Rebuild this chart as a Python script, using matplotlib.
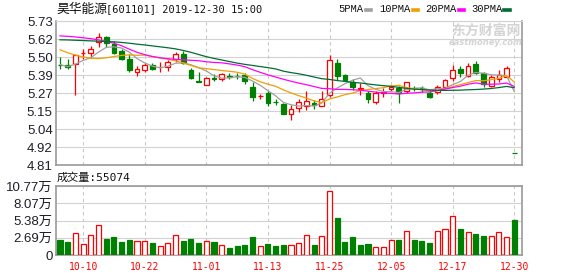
import matplotlib
matplotlib.use("Agg")
import matplotlib.pyplot as plt
from matplotlib.lines import Line2D
import numpy as np
import pandas as pd

# 日K数据 (60个交易日)
opens = [5.452, 5.447, 5.457, 5.524, 5.525, 5.597, 5.628, 5.584, 5.537, 5.490,
         5.406, 5.420, 5.452, 5.433, 5.436, 5.488, 5.522, 5.420, 5.347, 5.319,
         5.365, 5.357, 5.378, 5.378, 5.382, 5.310, 5.250, 5.270, 5.214, 5.200,
         5.135, 5.172, 5.190, 5.205, 5.190, 5.255, 5.464, 5.385, 5.342, 5.295,
         5.273, 5.214, 5.268, 5.296, 5.300, 5.285, 5.302, 5.301, 5.272, 5.275,
         5.310, 5.364, 5.421, 5.380, 5.453, 5.396, 5.315, 5.357, 5.374, 4.886]
highs = [5.500, 5.490, 5.520, 5.548, 5.573, 5.654, 5.632, 5.600, 5.548, 5.516,
         5.442, 5.463, 5.463, 5.467, 5.484, 5.533, 5.537, 5.430, 5.404, 5.374,
         5.389, 5.400, 5.395, 5.395, 5.399, 5.340, 5.266, 5.280, 5.230, 5.209,
         5.192, 5.232, 5.285, 5.225, 5.285, 5.513, 5.490, 5.390, 5.360, 5.332,
         5.285, 5.280, 5.300, 5.315, 5.315, 5.343, 5.313, 5.313, 5.280, 5.322,
         5.360, 5.449, 5.445, 5.462, 5.477, 5.406, 5.385, 5.417, 5.440, 4.886]
lows = [5.425, 5.425, 5.257, 5.490, 5.493, 5.563, 5.565, 5.516, 5.484, 5.404,
        5.378, 5.404, 5.420, 5.406, 5.412, 5.467, 5.457, 5.357, 5.343, 5.319,
        5.347, 5.347, 5.361, 5.362, 5.325, 5.219, 5.230, 5.190, 5.192, 5.135,
        5.099, 5.146, 5.160, 5.166, 5.185, 5.245, 5.350, 5.345, 5.290, 5.257,
        5.204, 5.200, 5.243, 5.280, 5.204, 5.270, 5.282, 5.275, 5.238, 5.262,
        5.300, 5.347, 5.374, 5.374, 5.390, 5.310, 5.310, 5.342, 5.364, 4.884]
closes = [5.448, 5.437, 5.512, 5.528, 5.552, 5.628, 5.590, 5.527, 5.490, 5.420,
          5.423, 5.450, 5.425, 5.436, 5.470, 5.520, 5.463, 5.363, 5.343, 5.366,
          5.362, 5.389, 5.375, 5.376, 5.347, 5.245, 5.253, 5.205, 5.211, 5.137,
          5.169, 5.212, 5.220, 5.196, 5.234, 5.480, 5.380, 5.355, 5.310, 5.305,
          5.232, 5.270, 5.278, 5.310, 5.272, 5.338, 5.299, 5.298, 5.243, 5.308,
          5.353, 5.417, 5.396, 5.445, 5.396, 5.326, 5.370, 5.385, 5.428, 4.884]

# 成交量 (万手) 及颜色 (1=红, 0=绿)
volumes = [2.39, 2.08, 3.38, 1.72, 3.07, 4.63, 2.55, 2.81, 2.08, 2.39,
           2.19, 2.19, 1.87, 1.40, 1.82, 3.07, 2.19, 2.50, 1.87, 2.19,
           2.03, 1.56, 1.14, 1.40, 1.56, 2.81, 1.40, 1.72, 1.40, 1.56,
           1.56, 1.82, 3.07, 1.56, 2.97, 9.99, 5.78, 2.03, 2.81, 1.56,
           1.72, 1.25, 1.25, 2.34, 2.39, 3.75, 2.39, 2.19, 1.87, 3.75,
           4.06, 6.09, 4.06, 3.59, 3.28, 2.97, 2.97, 3.59, 2.81, 5.5074]
vol_up = [0, 0, 1, 1, 1, 1, 0, 0, 0, 0, 1, 1, 0, 1, 1, 1, 0, 0, 0, 1,
          0, 1, 0, 0, 0, 0, 1, 0, 0, 0, 1, 1, 1, 0, 1, 1, 0, 0, 0, 0,
          0, 1, 1, 1, 0, 1, 0, 0, 0, 1, 1, 1, 0, 1, 0, 0, 1, 1, 1, 0]

# 均线开头部分(窗口之前的数据不在图内, 从图上读取)
ma5_head = [5.452, 5.438, 5.455, 5.478]
ma10_head = [5.546, 5.527, 5.512, 5.500, 5.492, 5.490, 5.495, 5.503, 5.510]
ma20_head = [5.635, 5.632, 5.628, 5.623, 5.617, 5.610, 5.600, 5.588, 5.572, 5.550,
             5.530, 5.515, 5.503, 5.495, 5.489, 5.485, 5.482, 5.479, 5.476]
ma30_head = [5.610, 5.609, 5.607, 5.605, 5.603, 5.601, 5.599, 5.597, 5.593, 5.588,
             5.582, 5.577, 5.571, 5.565, 5.559, 5.552, 5.542, 5.530, 5.516, 5.502,
             5.491, 5.481, 5.471, 5.461, 5.453, 5.446, 5.439, 5.432, 5.424]

date_idx = [3, 11, 19, 27, 35, 43, 51, 59]
date_labels = ["10-10", "10-22", "11-01", "11-13", "11-25", "12-05", "12-17", "12-30"]

price_ticklabels = ["4.81", "4.92", "5.04", "5.15", "5.27", "5.39", "5.50", "5.62", "5.73"]
vol_ticklabels = ["0", "2.69万", "5.38万", "8.07万", "10.77万"]

ma_names = ["5PMA", "10PMA", "20PMA", "30PMA"]
ma_colors = ["#a0a0a0", "#f0a000", "#ff00ff", "#006d32"]

RED = "#ff0000"
GREEN = "#008000"
W, H = 578, 276

x = np.arange(len(closes))
o = np.array(opens); c = np.array(closes)
up = c >= o

# 均线
cs = pd.Series(closes)
def ma(n, head):
    return np.concatenate([head, cs.rolling(n).mean().values[n - 1:]])
mas = [ma(5, ma5_head), ma(10, ma10_head), ma(20, ma20_head), ma(30, ma30_head)]

fig = plt.figure(figsize=(W / 100, H / 100), dpi=100)
ax = fig.add_axes([56 / W, 1 - 165 / H, 466 / W, 144 / H])
axv = fig.add_axes([56 / W, 1 - 255 / H, 466 / W, 69 / H])

# K线
colors = np.where(up, RED, GREEN)
ax.vlines(x, lows, highs, colors=colors, lw=0.9, zorder=3)
bottoms = np.minimum(o, c)
heights = np.maximum(np.abs(c - o), 0.0008)
ax.bar(x, heights, bottom=bottoms, width=0.62,
       color=np.where(up, "white", GREEN), edgecolor=colors, lw=0.9, zorder=4)

for m, col in zip(mas, ma_colors):
    ax.plot(x, m, color=col, lw=0.9, zorder=5)

# 成交量
vcol = np.where(np.array(vol_up) == 1, RED, GREEN)
axv.bar(x, volumes, width=0.66, color=np.where(np.array(vol_up) == 1, "white", GREEN),
        edgecolor=vcol, lw=0.9, zorder=3)

# 坐标轴
ax.set_xlim(-0.52, 60.0)
axv.set_xlim(-0.52, 60.0)
ax.set_ylim(4.81, 5.73)
axv.set_ylim(0, 10.77)
ax.set_yticks(np.linspace(4.81, 5.73, len(price_ticklabels)))
ax.set_yticklabels(price_ticklabels)
axv.set_yticks(np.linspace(0, 10.77, len(vol_ticklabels)))
axv.set_yticklabels(vol_ticklabels)
for a in (ax, axv):
    a.set_xticks(date_idx)
    a.grid(axis="y", color="#d2d2d2", lw=0.8, zorder=0)
    a.grid(axis="x", color="#c8c8c8", lw=0.8, ls=(0, (3, 3)), zorder=0)
    a.set_axisbelow(True)
    a.tick_params(length=0)
    for s in a.spines.values():
        s.set_color("#999999")
        s.set_linewidth(1.2)
    for lab in a.get_yticklabels():
        lab.set_family(["Liberation Sans", "Noto Sans CJK SC"])
        lab.set_fontsize(9.5)
        lab.set_color("#1e1e2a")
ax.spines["top"].set_color("#d2d2d2")
ax.spines["top"].set_linewidth(0.8)
ax.tick_params(axis="y", pad=2.4)
axv.tick_params(axis="y", pad=2.4)
ax.set_xticklabels([])
axv.set_xticklabels(date_labels, color=RED, family="DejaVu Sans Mono", fontsize=7)
axv.tick_params(axis="x", pad=5)

# 标题
fig.text(56 / W, 1 - 9.5 / H, "昊华能源", family="Noto Sans CJK SC", fontsize=9.2,
         va="center", ha="left", color="#111111")
fig.text(106 / W, 1 - 9.5 / H, "[601101] 2019-12-30 15:00", family="DejaVu Sans Mono",
         fontsize=7.5, va="center", ha="left", color="#111111")

# 图例
legend_x = [338.7, 379.7, 425.7, 471.0]
for name, col, lx in zip(ma_names, ma_colors, legend_x):
    t = fig.text(lx / W, 1 - 9.5 / H, name, family="Liberation Mono", fontsize=7.6,
                 va="center", ha="left", color="#111111")
    x0 = lx + 6.1 * len(name) + 2.5
    fig.add_artist(Line2D([x0 / W, (x0 + 5.5) / W], [1 - 9.5 / H, 1 - 9.5 / H],
                          transform=fig.transFigure, color=col, lw=2.6))

# 水印
fig.text(486 / W, 1 - 31 / H, "东方财富网", family="Noto Sans CJK SC", fontsize=10,
         weight="bold", color="#d4d4d4", ha="center", va="center", zorder=0)
fig.text(486 / W, 1 - 42.5 / H, "eastmoney.com", family="DejaVu Sans", fontsize=6,
         weight="bold", style="italic", color="#d4d4d4", ha="center", va="center", zorder=0)

# 成交量标签
fig.text(57 / W, 1 - 178 / H, "成交量:55074", family=["DejaVu Sans Mono", "Noto Sans CJK SC"],
         fontsize=8, va="center", ha="left", color="#111111")

fig.savefig("out.png", dpi=100)
